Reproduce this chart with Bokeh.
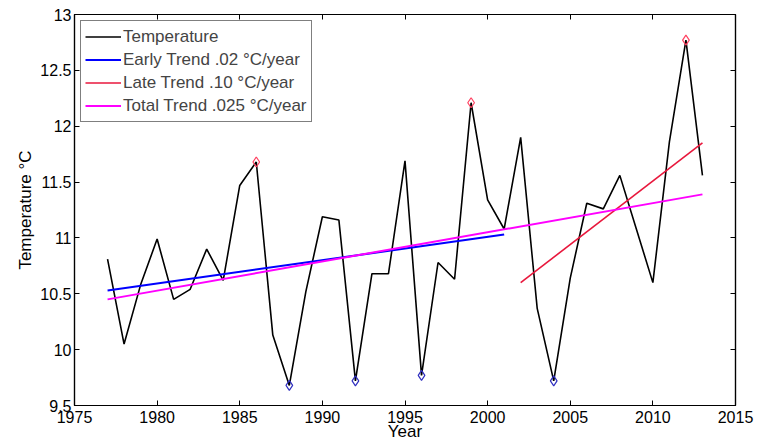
from bokeh.plotting import figure
from bokeh.models import Range1d, LinearAxis, FixedTicker, Legend, LegendItem, CustomLabelingPolicy
from bokeh.embed import file_html
from bokeh.resources import INLINE

years = list(range(1977, 2014))
temps = [10.81, 10.05, 10.58, 10.99, 10.45, 10.54, 10.90, 10.62, 11.47, 11.68,
         10.13, 9.68, 10.52, 11.19, 11.16, 9.72, 10.68, 10.68, 11.69, 9.77,
         10.78, 10.63, 12.21, 11.34, 11.08, 11.90, 10.37, 9.72, 10.64, 11.31,
         11.26, 11.56, 11.08, 10.60, 11.86, 12.77, 11.56]

early_years = [1977, 2001]
early_vals = [10.53, 11.03]
late_years = [2002, 2013]
late_vals = [10.60, 11.85]
total_years = [1977, 2013]
total_vals = [10.45, 11.39]

peak_years = [1986, 1999, 2012]
peak_vals = [11.68, 12.21, 12.77]
trough_years = [1988, 1992, 1996, 2004]
trough_vals = [9.68, 9.72, 9.77, 9.72]

x_ticks = [1975, 1980, 1985, 1990, 1995, 2000, 2005, 2010, 2015]
y_ticks = [9.5, 10, 10.5, 11, 11.5, 12, 12.5, 13]

FONT = "Liberation Sans"

p = figure(width=769, height=445, output_backend="svg", toolbar_location=None,
           x_range=Range1d(1975, 2015), y_range=Range1d(9.5, 13),
           min_border_left=74, min_border_right=34, min_border_top=14,
           min_border_bottom=40)
p.grid.visible = False
p.outline_line_color = "black"
p.outline_line_width = 1.2

for ax, ticks in ((p.xaxis[0], x_ticks), (p.yaxis[0], y_ticks)):
    ax.ticker = FixedTicker(ticks=ticks)
    ax.major_tick_in = 5
    ax.major_tick_out = 0
    ax.minor_tick_line_color = None
    ax.axis_line_color = "black"
    ax.axis_line_width = 1.2
    ax.major_label_text_font = FONT
    ax.major_label_text_font_size = "16px"
    ax.major_label_text_color = "black"
    ax.axis_label_text_font = FONT
    ax.axis_label_text_font_size = "17px"
    ax.axis_label_text_font_style = "normal"
    ax.axis_label_text_color = "black"

p.xaxis[0].axis_label = "Year"
p.xaxis[0].axis_label_standoff = -4
p.xaxis[0].major_label_standoff = 5
p.yaxis[0].axis_label = "Temperature \u00b0C"
p.yaxis[0].axis_label_standoff = 2
p.yaxis[0].major_label_standoff = 3

no_labels = CustomLabelingPolicy(code="return new Set()")
top = LinearAxis(ticker=FixedTicker(ticks=x_ticks), major_tick_in=5, major_tick_out=0,
                 minor_tick_line_color=None, major_label_policy=no_labels,
                 major_label_standoff=0, major_label_text_font_size="2px",
                 axis_line_color="black", axis_line_width=1.2)
right = LinearAxis(ticker=FixedTicker(ticks=y_ticks), major_tick_in=5, major_tick_out=0,
                   minor_tick_line_color=None, major_label_policy=no_labels,
                   major_label_standoff=0, major_label_text_font_size="2px",
                   axis_line_color="black", axis_line_width=1.2)
p.add_layout(top, "above")
p.add_layout(right, "right")

r_temp = p.line(years, temps, line_color="black", line_width=1.6)
r_early = p.line(early_years, early_vals, line_color="#0000ff", line_width=2)
r_late = p.line(late_years, late_vals, line_color="#e8173c", line_width=1.6)
r_total = p.line(total_years, total_vals, line_color="#ff00ff", line_width=2)

p.scatter(peak_years, peak_vals, marker="diamond", size=10, fill_color=None,
          line_color="#ff4060", line_width=1.2)
p.scatter(trough_years, trough_vals, marker="diamond", size=10, fill_color=None,
          line_color="#3030c0", line_width=1.2)

legend = Legend(items=[
    LegendItem(label="Temperature", renderers=[r_temp]),
    LegendItem(label="Early Trend .02 \u00b0C/year", renderers=[r_early]),
    LegendItem(label="Late Trend .10 \u00b0C/year", renderers=[r_late]),
    LegendItem(label="Total Trend .025 \u00b0C/year", renderers=[r_total]),
], location="top_left")
legend.margin = 6
legend.padding = 4
legend.spacing = 0
legend.label_height = 23
legend.glyph_height = 23
legend.glyph_width = 36
legend.label_standoff = 2
legend.label_text_font = FONT
legend.label_text_font_size = "17px"
legend.border_line_color = "black"
legend.border_line_width = 1.2
legend.background_fill_alpha = 1
p.add_layout(legend)

open("out.html", "w").write(file_html(p, INLINE))
